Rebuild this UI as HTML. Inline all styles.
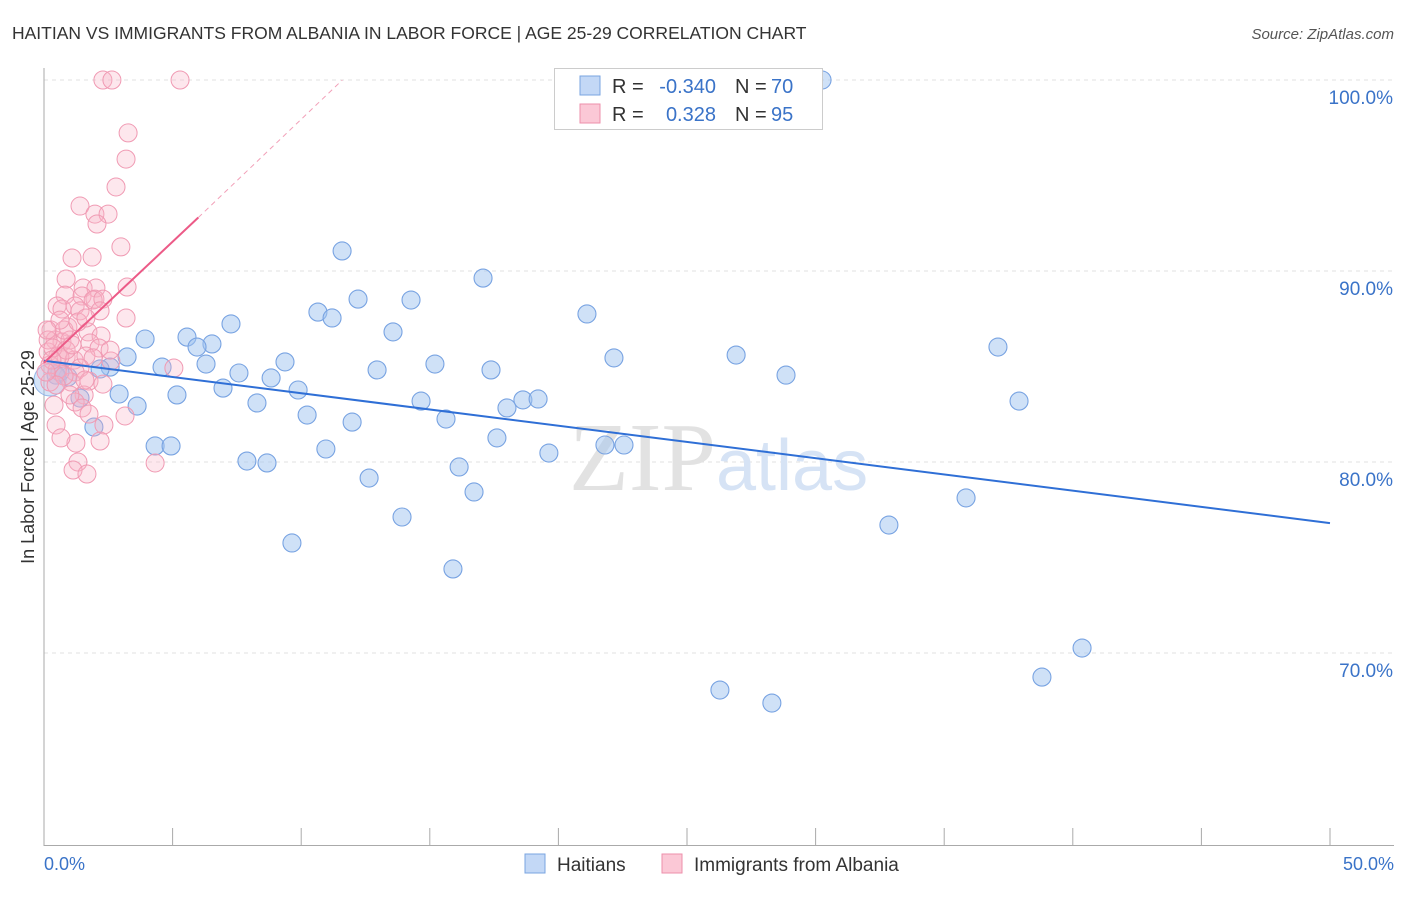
<!DOCTYPE html>
<html><head><meta charset="utf-8"><style>
body{margin:0;background:#fff;font-family:"Liberation Sans",sans-serif}
</style></head><body>
<svg width="1406" height="892" font-family="Liberation Sans, sans-serif">
<text x="12" y="39" font-size="17.5" fill="#333">HAITIAN VS IMMIGRANTS FROM ALBANIA IN LABOR FORCE | AGE 25-29 CORRELATION CHART</text>
<text x="1394" y="39" font-size="15" fill="#555" text-anchor="end" font-style="italic">Source: ZipAtlas.com</text>
<g id="grid"></g>
<text x="716" y="490" font-size="98" fill="#e2e2e2" text-anchor="end" font-family="Liberation Serif, serif">ZIP</text>
<text x="716" y="490" font-size="72" fill="#d6e3f5">atlas</text>
<line x1="44" y1="68" x2="44" y2="846" stroke="#aaa"/>
<line x1="44" y1="845.5" x2="1394" y2="845.5" stroke="#aaa"/>
<g id="pts"></g>
<g id="lines"></g>
<text x="34" y="457" font-size="18" fill="#333" text-anchor="middle" transform="rotate(-90 34 457)">In Labor Force | Age 25-29</text>
<text x="44" y="870" font-size="18" fill="#3a73c8">0.0%</text>
<text x="1394" y="870" font-size="18" fill="#3a73c8" text-anchor="end">50.0%</text>
<g>
<rect x="554.5" y="68.5" width="268" height="61" fill="#fff" stroke="#ccc"/>
<rect x="580" y="76" width="20" height="19" fill="#c3d8f6" stroke="#7aa4e0"/>
<rect x="580" y="104" width="20" height="19" fill="#fbc8d6" stroke="#ee8fab"/>
<text x="612" y="93" font-size="20" fill="#333">R =</text>
<text x="716" y="93" font-size="20" fill="#3a73c8" text-anchor="end">-0.340</text>
<text x="735" y="93" font-size="20" fill="#333">N =</text>
<text x="771" y="93" font-size="20" fill="#3a73c8">70</text>
<text x="612" y="121" font-size="20" fill="#333">R =</text>
<text x="716" y="121" font-size="20" fill="#3a73c8" text-anchor="end">0.328</text>
<text x="735" y="121" font-size="20" fill="#333">N =</text>
<text x="771" y="121" font-size="20" fill="#3a73c8">95</text>
</g>
<g>
<rect x="525" y="854" width="20" height="19" fill="#c3d8f6" stroke="#7aa4e0"/>
<text x="557" y="871" font-size="19" fill="#333">Haitians</text>
<rect x="662" y="854" width="20" height="19" fill="#fbc8d6" stroke="#ee8fab"/>
<text x="694" y="871" font-size="19" fill="#333">Immigrants from Albania</text>
</g>
</svg>
<script>
const yTicks=[100,90,80,70];
const xTickVals=[0,5,10,15,20,25,30,35,40,45,50];
const bluePx=[[822,80],[342,251],[483,278],[358,299],[411,300],[318,312],[332,318],[587,314],[231,324],[393,332],[145,339],[187,337],[212,344],[197,347],[998,347],[127,357],[736,355],[614,358],[285,362],[206,364],[435,364],[162,367],[110,367],[100,369],[239,373],[377,370],[491,370],[786,375],[271,378],[68,377],[56,375],[223,388],[298,390],[119,394],[177,395],[257,403],[137,406],[421,401],[523,400],[538,399],[507,408],[1019,401],[307,415],[352,422],[446,419],[94,427],[497,438],[155,446],[171,446],[326,449],[605,445],[624,445],[549,453],[247,461],[267,463],[459,467],[369,478],[474,492],[966,498],[402,517],[889,525],[292,543],[453,569],[1082,648],[720,690],[1042,677],[772,703],[60,372],[80,398]];
const pinkPx=[[103,80],[112,80],[180,80],[128,133],[126,159],[116,187],[80,206],[95,214],[108,214],[97,224],[121,247],[72,258],[92,257],[66,279],[83,288],[96,288],[127,287],[65,295],[82,296],[95,299],[57,306],[62,309],[75,306],[93,300],[103,299],[80,311],[100,311],[126,318],[51,330],[68,327],[88,332],[101,336],[55,340],[62,342],[70,340],[90,343],[99,348],[111,361],[48,352],[58,356],[66,357],[74,360],[86,356],[93,358],[80,368],[50,365],[57,370],[75,372],[71,382],[89,381],[103,384],[84,395],[75,402],[82,408],[125,416],[56,425],[104,425],[76,443],[61,438],[100,441],[78,462],[73,470],[87,474],[155,463],[174,368],[50,382],[54,405],[89,414],[60,357],[64,376],[56,385],[48,340],[53,348],[66,350],[72,345],[52,360],[46,372],[64,330],[78,322],[86,318],[60,320],[110,350],[47,330],[70,395],[85,380]];
const blueX=bluePx.map(p=>+((p[0]-44)/25.72).toFixed(2)), blueY=bluePx.map(p=>+(100-(p[1]-80)/19.1).toFixed(2));
const pinkX=pinkPx.map(p=>+((p[0]-44)/25.72).toFixed(2)), pinkY=pinkPx.map(p=>+(100-(p[1]-80)/19.1).toFixed(2));
const blueTrend=[[0,85.3],[50,76.8]];
const pinkTrend=[[0,85.2],[6,92.8],[11.6,100]];
const sx=v=>44+v*25.72, sy=v=>80+(100-v)*19.1;
const NS='http://www.w3.org/2000/svg';
function mk(t,a,parent){const e=document.createElementNS(NS,t);for(const k in a)e.setAttribute(k,a[k]);parent.appendChild(e);return e;}
const grid=document.getElementById('grid');
yTicks.forEach(t=>{
 const l=mk('line',{x1:44,x2:1394,y1:sy(t),y2:sy(t),stroke:'#e2e2e2','stroke-dasharray':'4,4'},grid);
 
 
 const tx=mk('text',{x:1393,y:sy(t)+24,'font-size':19,fill:'#3a73c8','text-anchor':'end'},grid);
 tx.textContent=t.toFixed(1)+'%';
 
 
});
xTickVals.forEach(t=>{
 const l=mk('line',{x1:sx(t),x2:sx(t),y1:828,y2:845,stroke:'#aaa'},grid);
 
 
});
const pts=document.getElementById('pts');
blueX.forEach((x,i)=>{
 const c=mk('circle',{cx:sx(x),cy:sy(blueY[i]),r:9,fill:'rgba(160,195,240,0.5)',stroke:'#78a3e2','stroke-width':1.1},pts);
 
 
});
const big=mk('circle',{cx:50,cy:380,r:16,fill:'rgba(160,195,240,0.45)',stroke:'#8fb4e8'},pts);


pinkX.forEach((x,i)=>{
 const c=mk('circle',{cx:sx(x),cy:sy(pinkY[i]),r:9,fill:'rgba(248,180,200,0.32)',stroke:'#f09ab3','stroke-width':1},pts);
 
 
});
const lines=document.getElementById('lines');
const bl=mk('line',{x1:sx(blueTrend[0][0]),y1:sy(blueTrend[0][1]),x2:sx(blueTrend[1][0]),y2:sy(blueTrend[1][1]),stroke:'#2f6fd6','stroke-width':2},lines);


const pl=mk('line',{x1:sx(pinkTrend[0][0]),y1:sy(pinkTrend[0][1]),x2:sx(pinkTrend[1][0]),y2:sy(pinkTrend[1][1]),stroke:'#ec5a87','stroke-width':2},lines);


const pd=mk('line',{x1:sx(pinkTrend[1][0]),y1:sy(pinkTrend[1][1]),x2:sx(pinkTrend[2][0]),y2:sy(pinkTrend[2][1]),stroke:'#f2a0b8','stroke-width':1,'stroke-dasharray':'5,4'},lines);


</script>
</body></html>
